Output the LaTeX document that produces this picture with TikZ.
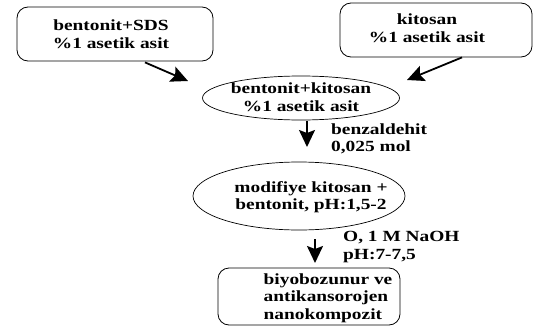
\documentclass[tikz,border=0pt]{standalone}
\usepackage{fontspec}
\newfontfamily\diafont{Liberation Serif}[FakeStretch=1.25]
\usetikzlibrary{shapes.geometric,arrows.meta}
\begin{document}
\begin{tikzpicture}[x=1pt,y=-1pt,
  txt/.style={font=\diafont\bfseries\fontsize{15.5}{17.5}\selectfont,inner sep=0pt},
  kutu/.style={draw,rounded corners=11pt,line width=.8pt},
  elips/.style={draw,ellipse,line width=.7pt,inner sep=0pt},
  ok/.style={line width=1.8pt,-{Stealth[length=17pt,width=16pt,inset=3pt]}}]
\useasboundingbox (0,0) rectangle (534,329);
\node[kutu,minimum width=196pt,minimum height=54pt] (box1) at (115,34) {};
\node[txt,align=center] (box1t) at (111,34) {bentonit+SDS\\ \%1 asetik asit};
\node[kutu,minimum width=192pt,minimum height=54pt] (box2) at (436,30) {};
\node[txt,align=center] (box2t) at (427,28) {kitosan\\ \%1 asetik asit};
\node[elips,minimum width=197pt,minimum height=44pt] (ell1) at (301,98) {};
\node[txt,align=center] (ell1t) at (301,97) {bentonit+kitosan\\ \%1 asetik asit};
\node[elips,minimum width=212pt,minimum height=68pt] (ell2) at (299,196) {};
\node[txt,align=center] (ell2t) at (311,197) {modifiye kitosan +\\ bentonit, pH:1,5-2};
\node[kutu,minimum width=182pt,minimum height=57pt] (box3) at (309,296.5) {};
\node[txt,align=left] (box3t) at (328,298) {biyobozunur ve\\ antikansorojen\\ nanokompozit};
% reaktif etiketleri
\node[txt,align=left,anchor=west] (lab1) at (331,139) {benzaldehit\\ 0,025 mol};
\node[txt,align=left,anchor=west] (lab2) at (343,247) {O, 1 M NaOH\\ pH:7-7,5};
% oklar
\coordinate (a1s) at ([xshift=30pt,yshift=-1pt]box1.south);
\coordinate (a1e) at (188,81);
\coordinate (a2s) at ([xshift=26pt]box2.south);
\coordinate (a2e) at (407,80);
\coordinate (a3s) at ([xshift=6pt,yshift=-1pt]ell1.south);
\coordinate (a3e) at (307,147);
\coordinate (a4s) at (315,239);
\coordinate (a4e) at (315,263);
\draw[ok] (a1s) -- (a1e);
\draw[ok] (a2s) -- (a2e);
\draw[ok] (a3s) -- (a3e);
\draw[ok] (a4s) -- (a4e);
\end{tikzpicture}
\end{document}
